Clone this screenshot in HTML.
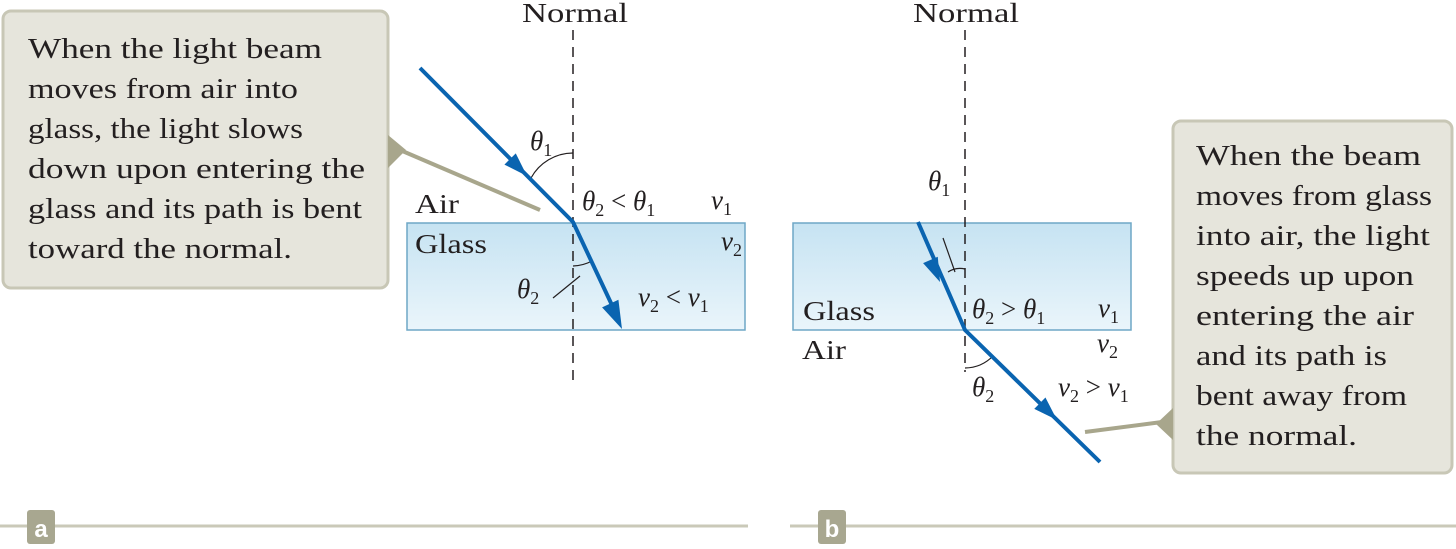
<!DOCTYPE html>
<html><head><meta charset="utf-8"><style>
body{margin:0;background:#fff;width:1456px;height:544px;overflow:hidden}
svg text{font-family:"Liberation Serif","DejaVu Serif",serif;fill:#231f20}
.t{font-size:29px}
.l{font-size:27px}
.i{font-style:italic}
</style></head><body>
<svg width="1456" height="544" viewBox="0 0 1456 544">
<defs>
<linearGradient id="g" x1="0" y1="0" x2="0" y2="1"><stop offset="0" stop-color="#c6e3f2"/><stop offset="1" stop-color="#eaf5fb"/></linearGradient>
</defs>
<g>
<rect x="3" y="11" width="385" height="277" rx="8" fill="#e6e5dc" stroke="#c8c7b6" stroke-width="3"/>
<path d="M388,135 L406,150 L388,168 Z" fill="#a8a68c"/>
<line x1="400" y1="150" x2="540" y2="210" stroke="#a8a68c" stroke-width="4"/>
<g class="t">
<text x="28" y="58" textLength="294" lengthAdjust="spacingAndGlyphs">When the light beam</text>
<text x="28" y="98" textLength="270" lengthAdjust="spacingAndGlyphs">moves from air into</text>
<text x="28" y="138" textLength="275" lengthAdjust="spacingAndGlyphs">glass, the light slows</text>
<text x="28" y="178" textLength="337" lengthAdjust="spacingAndGlyphs">down upon entering the</text>
<text x="28" y="218" textLength="334" lengthAdjust="spacingAndGlyphs">glass and its path is bent</text>
<text x="28" y="258" textLength="264" lengthAdjust="spacingAndGlyphs">toward the normal.</text>
</g>
<rect x="407" y="223" width="338" height="107" fill="url(#g)" stroke="#6ea7c6" stroke-width="1.5"/>
<text class="l" x="522" y="22" textLength="106" lengthAdjust="spacingAndGlyphs">Normal</text>
<line x1="573" y1="30" x2="573" y2="382" stroke="#231f20" stroke-width="1.5" stroke-dasharray="10,7"/>
<path d="M531,178 A48,48 0 0 1 573,153" fill="none" stroke="#231f20" stroke-width="1.2"/>
<path d="M573,266 A44,44 0 0 0 592,261" fill="none" stroke="#231f20" stroke-width="1.2"/>
<line x1="553" y1="298" x2="580" y2="276" stroke="#231f20" stroke-width="1.2"/>
<polyline points="420,68 573,222 618,318" fill="none" stroke="#0a64b0" stroke-width="4"/>
<path d="M0,0 L-24,-8 L-24,8 Z" fill="#0a64b0" transform="translate(527,176) rotate(45.2)"/>
<path d="M0,0 L-28,-9 L-28,9 Z" fill="#0a64b0" transform="translate(622,329) rotate(65.2)"/>
<g class="l">
<text class="i" x="530" y="150">θ<tspan font-size="18" dy="6" font-style="normal">1</tspan></text>
<text x="415" y="213" textLength="44" lengthAdjust="spacingAndGlyphs">Air</text>
<text x="582" y="210"><tspan class="i">θ</tspan><tspan font-size="18" dy="6">2</tspan><tspan dy="-6"> &lt; </tspan><tspan class="i">θ</tspan><tspan font-size="18" dy="6">1</tspan></text>
<text class="i" x="711" y="209">v<tspan font-size="18" dy="6" font-style="normal">1</tspan></text>
<text x="415" y="253" textLength="72" lengthAdjust="spacingAndGlyphs">Glass</text>
<text class="i" x="721" y="250">v<tspan font-size="18" dy="6" font-style="normal">2</tspan></text>
<text class="i" x="517" y="298">θ<tspan font-size="18" dy="6" font-style="normal">2</tspan></text>
<text x="638" y="306"><tspan class="i">v</tspan><tspan font-size="18" dy="6">2</tspan><tspan dy="-6"> &lt; </tspan><tspan class="i">v</tspan><tspan font-size="18" dy="6">1</tspan></text>
</g>
<line x1="0" y1="526" x2="748" y2="526" stroke="#cac9b8" stroke-width="3"/>
<rect x="27" y="510" width="28" height="34" rx="3" fill="#a8a790"/>
<text x="41" y="537" text-anchor="middle" style="font-family:'Liberation Sans',sans-serif;font-weight:bold;font-size:24px;fill:#fff">a</text>
</g>
<g>
<rect x="793" y="223" width="338" height="107" fill="url(#g)" stroke="#6ea7c6" stroke-width="1.5"/>
<text class="l" x="913" y="22" textLength="106" lengthAdjust="spacingAndGlyphs">Normal</text>
<line x1="965" y1="30" x2="965" y2="372" stroke="#231f20" stroke-width="1.5" stroke-dasharray="10,7"/>
<path d="M948,272 A22,22 0 0 1 965,269" fill="none" stroke="#231f20" stroke-width="1.2"/>
<line x1="943" y1="238" x2="955" y2="272" stroke="#231f20" stroke-width="1.2"/>
<path d="M965,368 A40,40 0 0 0 993,356" fill="none" stroke="#231f20" stroke-width="1.2"/>
<polyline points="918,222 965,330 1100,462" fill="none" stroke="#0a64b0" stroke-width="4"/>
<path d="M0,0 L-24,-8 L-24,8 Z" fill="#0a64b0" transform="translate(940,282) rotate(66.5)"/>
<path d="M0,0 L-24,-8 L-24,8 Z" fill="#0a64b0" transform="translate(1057,420) rotate(44.4)"/>
<g class="l">
<text class="i" x="928" y="190">θ<tspan font-size="18" dy="6" font-style="normal">1</tspan></text>
<text x="972" y="318"><tspan class="i">θ</tspan><tspan font-size="18" dy="6">2</tspan><tspan dy="-6"> &gt; </tspan><tspan class="i">θ</tspan><tspan font-size="18" dy="6">1</tspan></text>
<text class="i" x="1098" y="317">v<tspan font-size="18" dy="6" font-style="normal">1</tspan></text>
<text x="803" y="320" textLength="72" lengthAdjust="spacingAndGlyphs">Glass</text>
<text x="802" y="359" textLength="44" lengthAdjust="spacingAndGlyphs">Air</text>
<text class="i" x="1097" y="352">v<tspan font-size="18" dy="6" font-style="normal">2</tspan></text>
<text class="i" x="972" y="396">θ<tspan font-size="18" dy="6" font-style="normal">2</tspan></text>
<text x="1058" y="396"><tspan class="i">v</tspan><tspan font-size="18" dy="6">2</tspan><tspan dy="-6"> &gt; </tspan><tspan class="i">v</tspan><tspan font-size="18" dy="6">1</tspan></text>
</g>
<rect x="1173" y="121" width="279" height="352" rx="8" fill="#e6e5dc" stroke="#c8c7b6" stroke-width="3"/>
<path d="M1173,408 L1156,424 L1173,440 Z" fill="#a8a68c"/>
<line x1="1085" y1="432" x2="1162" y2="422" stroke="#a8a68c" stroke-width="4"/>
<g class="t">
<text x="1196" y="165" textLength="225" lengthAdjust="spacingAndGlyphs">When the beam</text>
<text x="1196" y="205" textLength="236" lengthAdjust="spacingAndGlyphs">moves from glass</text>
<text x="1196" y="245" textLength="234" lengthAdjust="spacingAndGlyphs">into air, the light</text>
<text x="1196" y="285" textLength="218" lengthAdjust="spacingAndGlyphs">speeds up upon</text>
<text x="1196" y="325" textLength="218" lengthAdjust="spacingAndGlyphs">entering the air</text>
<text x="1196" y="365" textLength="191" lengthAdjust="spacingAndGlyphs">and its path is</text>
<text x="1196" y="405" textLength="211" lengthAdjust="spacingAndGlyphs">bent away from</text>
<text x="1196" y="445" textLength="161" lengthAdjust="spacingAndGlyphs">the normal.</text>
</g>
<line x1="790" y1="526" x2="1456" y2="526" stroke="#cac9b8" stroke-width="3"/>
<rect x="818" y="510" width="28" height="34" rx="3" fill="#a8a790"/>
<text x="832" y="537" text-anchor="middle" style="font-family:'Liberation Sans',sans-serif;font-weight:bold;font-size:24px;fill:#fff">b</text>
</g>
</svg>
</body></html>
